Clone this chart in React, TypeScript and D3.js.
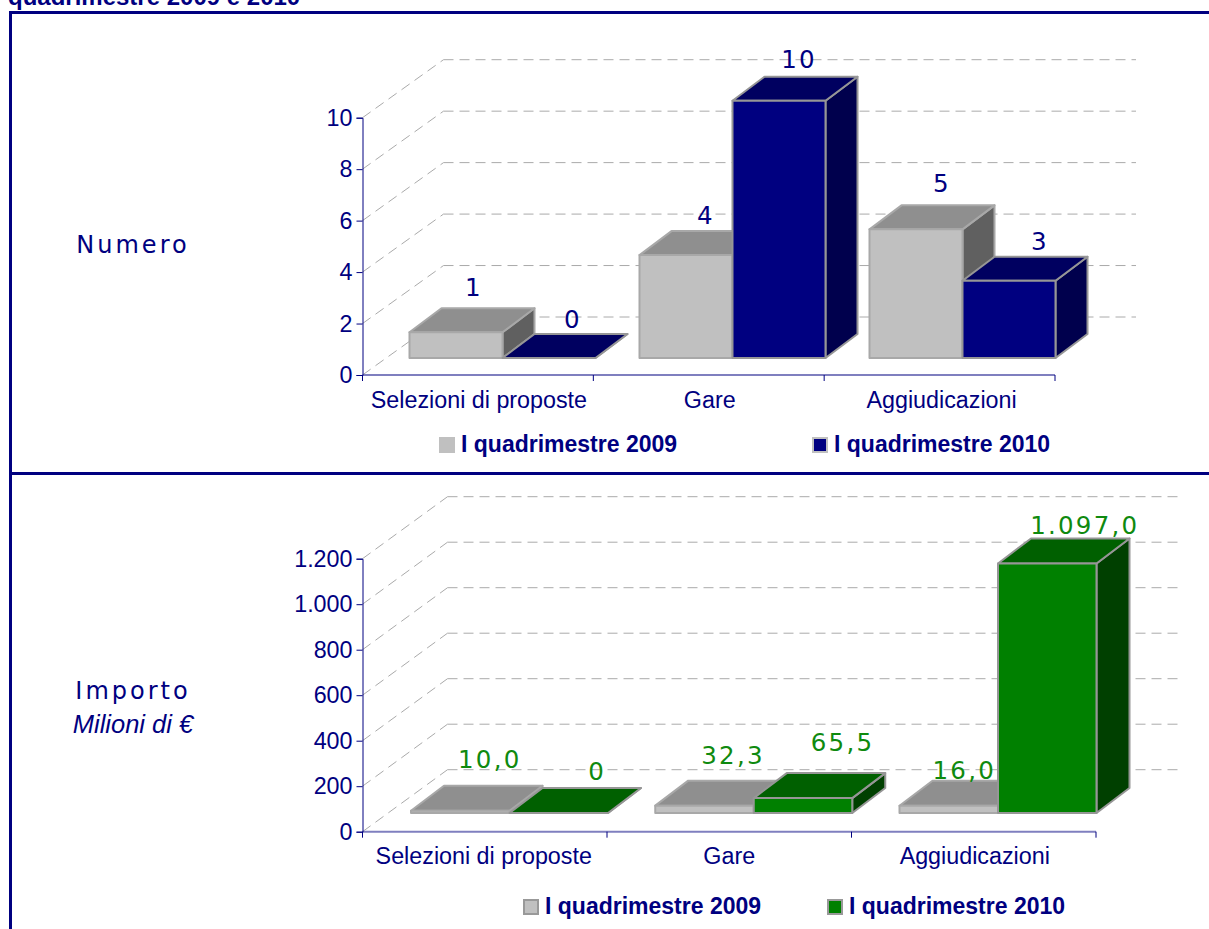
import * as d3 from "d3";
import { useEffect, useRef } from "react";

const width = 1209;
const height = 929;
const navy = "#000080";
const arial = "'Liberation Sans', Arial, sans-serif";
const verdana = "'DejaVu Sans', Verdana, sans-serif";

const categories = ["Selezioni di proposte", "Gare", "Aggiudicazioni"];
const seriesNames = ["I quadrimestre 2009", "I quadrimestre 2010"];

const numero2009 = [1, 4, 5];
const numero2010 = [0, 10, 3];
const numeroLabels2009 = ["1", "4", "5"];
const numeroLabels2010 = ["0", "10", "3"];
const numeroTicks = [0, 2, 4, 6, 8, 10];

// the third grey bar is drawn as tall as the second one, whatever its label says
const importo2009 = [10, 32.3, 32];
const importo2010 = [0, 65.5, 1097];
const importoLabels2009 = ["10,0", "32,3", "16,0"];
const importoLabels2010 = ["0", "65,5", "1.097,0"];
const importoTicks = [0, 200, 400, 600, 800, 1000, 1200];

const itFormat = d3.formatLocale({
  decimal: ",",
  thousands: ".",
  grouping: [3],
  currency: ["", "€"],
}).format(",d");

type Panel = {
  s1: number[];
  s2: number[];
  l1: string[];
  l2: string[];
  ticks: number[];
  yRange: [number, number];
  xRange: [number, number];
  barStart: [number, number];
  barWidth: number;
  wall: [number, number];
  depth: [number, number];
  baseLift: number;
  colors: { front: string; top: string; side: string };
  labelColor: string;
  nudge1: [number, number][];
  nudge2: [number, number][];
  catLabelDx: number[];
  catY: number;
  legendY: number;
  legendX: [number, number];
  legendStroke: string;
};

const greys = { front: "#c0c0c0", top: "#8f8f8f", side: "#606060" };

function drawPanel(svg: d3.Selection<SVGSVGElement, unknown, null, undefined>, p: Panel) {
  const g = svg.append("g");
  const y = d3.scaleLinear().domain([p.ticks[0], p.ticks[p.ticks.length - 1]]).range(p.yRange);
  const xTicks = d3.scalePoint<number>().domain([0, 1, 2, 3]).range(p.xRange);
  const xBars = d3.scalePoint<string>().domain(categories).range(p.barStart);
  const [wx, wy] = p.wall;
  const [dx, dy] = p.depth;
  const x0 = p.xRange[0];
  const x1 = p.xRange[1];

  // gridlines on the side and back walls
  const grid = g.append("g").attr("fill", "none").attr("stroke", "#aaaaaa").attr("stroke-dasharray", "10 6");
  p.ticks.forEach((t) => {
    grid.append("line").attr("x1", x0).attr("y1", y(t)).attr("x2", x0 + wx).attr("y2", y(t) - wy);
    grid.append("line").attr("x1", x0 + wx).attr("y1", y(t) - wy).attr("x2", x1 + wx).attr("y2", y(t) - wy);
  });

  // floor edge + axes
  g.append("line").attr("x1", x0).attr("x2", x1).attr("y1", y(0)).attr("y2", y(0)).attr("stroke", "#7f7fbf").attr("stroke-width", 2);
  [1, 2, 3].forEach((i) => {
    g.append("line").attr("x1", xTicks(i)!).attr("x2", xTicks(i)!).attr("y1", y(0)).attr("y2", y(0) + 6).attr("stroke", navy);
  });
  g.append("line").attr("x1", x0).attr("x2", x0).attr("y1", y(0)).attr("y2", y(0) + 6).attr("stroke", navy);

  const axis = g.append("g")
    .attr("transform", `translate(${x0},0)`)
    .call(d3.axisLeft(y).tickValues(p.ticks).tickSize(6).tickPadding(4).tickFormat((d) => itFormat(d as number)));
  axis.select(".domain").attr("stroke", navy);
  axis.selectAll("line").attr("stroke", navy);
  axis.selectAll("text").attr("fill", navy).attr("font-family", arial).attr("font-size", 23.3).attr("dy", "0.33em");

  // bars
  const bar = (left: number, value: number, c: typeof greys, stroke: string) => {
    const b = y(0) - p.baseLift;
    const t = b - (y(0) - y(value));
    const r = left + p.barWidth;
    const shape = g.append("g").attr("stroke", stroke).attr("stroke-width", 2).attr("stroke-linejoin", "round");
    shape.append("path").attr("fill", c.side)
      .attr("d", `M${r},${b}L${r + dx},${b - dy}L${r + dx},${t - dy}L${r},${t}Z`);
    shape.append("path").attr("fill", c.top)
      .attr("d", `M${left},${t}L${left + dx},${t - dy}L${r + dx},${t - dy}L${r},${t}Z`);
    shape.append("rect").attr("fill", c.front).attr("x", left).attr("y", t).attr("width", p.barWidth).attr("height", b - t);
    return t;
  };

  const labelLayer: (() => void)[] = [];
  categories.forEach((cat, i) => {
    const left = xBars(cat)!;
    const t1 = bar(left, p.s1[i], greys, "#a8a8a8");
    const t2 = bar(left + p.barWidth, p.s2[i], p.colors, "#969696");
    labelLayer.push(() => {
      const label = (txt: string, cx: number, top: number, n: [number, number]) => {
        g.append("text").text(txt)
          .attr("x", cx + n[0]).attr("y", top + n[1])
          .attr("text-anchor", "middle").attr("dominant-baseline", "central")
          .attr("font-family", verdana).attr("font-size", 24.5).attr("letter-spacing", 2.2)
          .attr("fill", p.labelColor);
      };
      label(p.l1[i], left + p.barWidth / 2 + dx / 2, t1 - dy, p.nudge1[i]);
      label(p.l2[i], left + p.barWidth * 1.5 + dx / 2, t2 - dy, p.nudge2[i]);
    });
  });
  labelLayer.forEach((f) => f());

  // category names under the floor
  categories.forEach((cat, i) => {
    g.append("text").text(cat)
      .attr("x", (xTicks(i)! + xTicks(i + 1)!) / 2 + p.catLabelDx[i]).attr("y", p.catY)
      .attr("text-anchor", "middle").attr("font-family", arial).attr("font-size", 23.3)
      .attr("fill", navy);
  });

  // legend
  seriesNames.forEach((name, i) => {
    const lx = p.legendX[i];
    g.append("rect").attr("x", lx + 1).attr("y", p.legendY - 13).attr("width", 14).attr("height", 14)
      .attr("fill", i === 0 ? greys.front : p.colors.front).attr("stroke", p.legendStroke).attr("stroke-width", 2);
    g.append("text").text(name).attr("x", lx + 22).attr("y", p.legendY + 1)
      .attr("font-family", arial).attr("font-weight", 700).attr("font-size", 23).attr("fill", navy);
  });
}

const App = () => {
  const containerRef = useRef<HTMLDivElement>(null);

  useEffect(() => {
    const root = containerRef.current!;
    root.innerHTML = "";
    const svg = d3.create("svg")
      .attr("width", width)
      .attr("height", height)
      .style("position", "absolute")
      .style("left", 0)
      .style("top", 0);
    const pageSvg = svg as unknown as d3.Selection<SVGSVGElement, unknown, null, undefined>;

    svg.append("text").text("quadrimestre 2009 e 2010")
      .attr("x", 8).attr("y", 5).attr("font-family", arial).attr("font-weight", 700)
      .attr("font-size", 24).attr("fill", navy);

    svg.append("rect").attr("x", 9).attr("y", 11).attr("width", 1200).attr("height", 3).attr("fill", navy);
    svg.append("rect").attr("x", 9).attr("y", 472).attr("width", 1200).attr("height", 3).attr("fill", navy);
    svg.append("rect").attr("x", 9).attr("y", 11).attr("width", 3).attr("height", 918).attr("fill", navy);

    drawPanel(pageSvg, {
      s1: numero2009, s2: numero2010, l1: numeroLabels2009, l2: numeroLabels2010,
      ticks: numeroTicks,
      yRange: [375, 117.7],
      xRange: [362.5, 1055],
      barStart: [409.5, 869.5],
      barWidth: 93,
      wall: [81, 58],
      depth: [32, 24],
      baseLift: 17,
      colors: { front: "#000080", top: "#000060", side: "#00004d" },
      labelColor: navy,
      nudge1: [[2, -21], [4, -16], [10, -22]],
      nudge2: [[8, -15], [4, -17], [15, -15]],
      catLabelDx: [1, 1, 2],
      catY: 408,
      legendY: 451,
      legendX: [439, 812],
      legendStroke: "#c0c0c0",
    });

    drawPanel(pageSvg, {
      s1: importo2009, s2: importo2010, l1: importoLabels2009, l2: importoLabels2010,
      ticks: importoTicks,
      yRange: [831.7, 558.7],
      xRange: [362.5, 1096],
      barStart: [411, 899.5],
      barWidth: 98.5,
      wall: [85, 62],
      depth: [33, 25],
      baseLift: 18.7,
      colors: { front: "#008000", top: "#006000", side: "#004000" },
      labelColor: "#0f8a0f",
      nudge1: [[13, -26], [12, -25], [-1, -10]],
      nudge2: [[22, -17], [23, -31], [21, -13]],
      catLabelDx: [-1, 0, 1],
      catY: 864,
      legendY: 913,
      legendX: [523, 827],
      legendStroke: "#999999",
    });

    // row titles on the left
    svg.append("text").text("Numero").attr("x", 133).attr("y", 253)
      .attr("text-anchor", "middle").attr("font-family", verdana).attr("font-size", 24)
      .attr("letter-spacing", 3).attr("fill", navy);
    svg.append("text").text("Importo").attr("x", 133).attr("y", 699)
      .attr("text-anchor", "middle").attr("font-family", verdana).attr("font-size", 24)
      .attr("letter-spacing", 3).attr("fill", navy);
    svg.append("text").text("Milioni di €").attr("x", 133).attr("y", 733)
      .attr("text-anchor", "middle").attr("font-family", arial).attr("font-style", "italic")
      .attr("font-size", 25.5).attr("fill", navy);

    root.append(svg.node()!);
  }, []);

  return <div ref={containerRef}></div>;
};

export default App;
